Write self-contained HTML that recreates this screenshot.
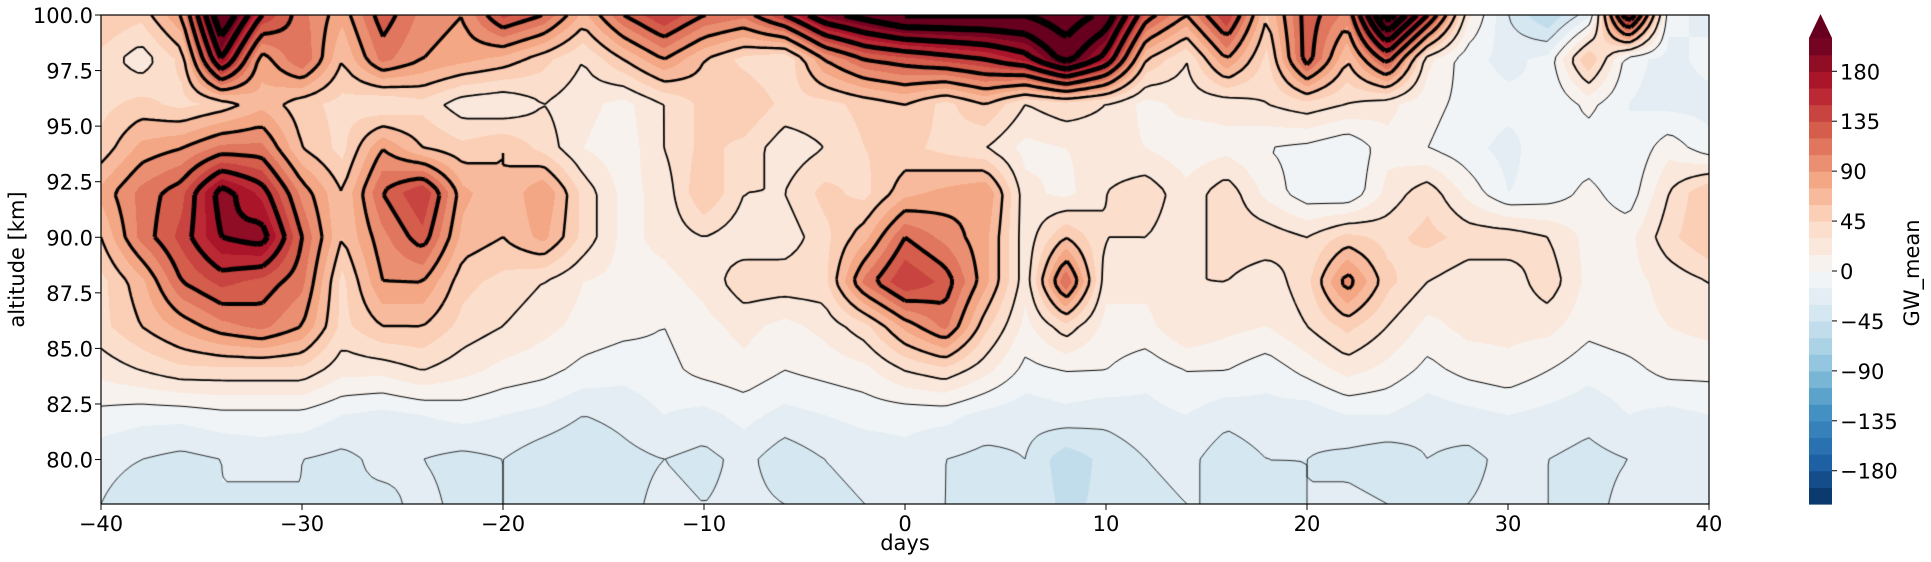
<!DOCTYPE html>
<html><head><meta charset="utf-8">
<style>
html,body{margin:0;padding:0;background:#fff;}
body{width:1931px;height:562px;position:relative;overflow:hidden;font-family:"DejaVu Sans","Liberation Sans",sans-serif;}
#plot{position:absolute;left:101px;top:15px;}
svg{position:absolute;left:0;top:0;}
</style></head>
<body>
<canvas id="plot" width="1608" height="489"></canvas>
<svg id="ov" width="1931" height="562"></svg>
<script>
const days=[-40,-38,-36,-34,-32,-30,-28,-26,-24,-22,-20,-18,-16,-14,-12,-10,-8,-6,-4,-2,0,2,4,6,8,10,12,14,16,18,20,22,24,26,28,30,32,34,36,38,40];
const alts=[100,98,96,94,92,90,88,86,84,82,80,78];
const r100=[60,50,90,240,150,110,80,130,100,90,140,120,70,120,150,120,110,150,200,220,240,240,240,240,260,230,130,90,150,60,130,100,260,150,20,-30,-60,-20,180,-10,-20];
const r98=[40,20,50,180,80,120,60,110,90,80,70,50,30,60,90,60,40,30,90,120,130,140,150,170,220,170,60,30,90,40,130,60,130,20,-10,-20,-10,60,-10,-20,-10];
const r96=[40,50,40,50,70,50,40,30,40,20,15,30,20,10,30,50,60,40,40,50,60,40,60,30,40,30,10,20,20,30,40,30,20,5,-5,-10,-15,5,-15,-20,-20];
const r94=[50,80,90,110,110,60,40,90,60,50,60,40,15,5,30,50,40,20,30,45,50,40,30,10,15,20,15,5,10,0,-5,-15,10,0,-10,-20,-5,-10,-15,10,-10];
const r92=[80,110,130,190,160,100,60,120,150,80,60,90,40,10,20,60,30,30,50,40,70,80,90,20,10,30,40,20,40,10,-10,-15,20,40,10,-15,-10,5,-10,30,60];
const r90=[60,110,140,180,190,120,60,100,130,70,60,80,40,10,20,30,20,20,40,70,120,100,80,20,60,30,30,20,40,40,30,50,40,50,40,40,30,10,10,40,60];
const r88=[40,70,120,140,130,110,40,90,90,50,40,30,15,10,10,20,40,40,40,110,150,130,80,20,120,20,20,30,30,20,40,100,50,30,20,20,40,10,10,20,30];
const r86=[40,60,80,100,110,90,40,60,60,40,30,20,10,5,0,10,20,10,20,40,80,110,50,10,40,10,10,30,20,15,30,50,30,10,20,20,20,5,10,15,20];
const r84=[20,30,40,40,40,40,20,20,30,20,10,5,-5,-10,-5,5,10,0,5,10,30,40,20,-5,0,0,-10,0,0,-10,5,20,10,-5,5,10,0,-10,-5,5,5];
const r82=[-5,-10,-10,-5,-5,-5,-15,-20,-15,-10,-15,-20,-30,-25,-15,-20,-10,-20,-15,-10,-10,-10,-20,-25,-20,-25,-20,-15,-25,-20,-25,-15,-15,-25,-20,-15,-20,-25,-15,-20,-15];
const r80=[-25,-30,-35,-30,-25,-30,-35,-25,-30,-35,-30,-40,-45,-35,-30,-35,-25,-40,-30,-25,-20,-30,-35,-30,-55,-40,-30,-25,-40,-30,-30,-35,-40,-30,-35,-25,-30,-35,-30,-25,-20];
const r78=[-30,-40,-35,-30,-35,-30,-30,-35,-25,-35,-30,-35,-30,-35,-25,-30,-25,-30,-35,-30,-25,-30,-35,-30,-50,-40,-35,-30,-30,-35,-30,-25,-30,-35,-30,-25,-30,-35,-25,-20,-15];
const rows=[r100,r98,r96,r94,r92,r90,r88,r86,r84,r82,r80,r78];
const xTicks=[-40,-30,-20,-10,0,10,20,30,40];
const yTicks=[80.0,82.5,85.0,87.5,90.0,92.5,95.0,97.5,100.0];
const cbTicks=[-180,-135,-90,-45,0,45,90,135,180];
const contourLevels=[-60,-30,0,30,60,90,120,150,180,210,240];

const PX=101,PY=15,PW=1608,PH=489;
const xS=d=>(d+40)/80*PW; const yS=a=>(100-a)/22*PH;
const VMIN=-210,VMAX=210,STEP=15;
const anchors=["#053061","#2166ac","#4393c3","#92c5de","#d1e5f0","#f7f7f7","#fddbc7","#f4a582","#d6604d","#b2182b","#67001f"].map(h=>[parseInt(h.slice(1,3),16),parseInt(h.slice(3,5),16),parseInt(h.slice(5,7),16)]);
function cmap(t){t=Math.max(0,Math.min(1,t));const f=t*10,i=Math.min(9,Math.floor(f)),r=f-i;const a=anchors[i],b=anchors[i+1];return [a[0]+(b[0]-a[0])*r,a[1]+(b[1]-a[1])*r,a[2]+(b[2]-a[2])*r].map(Math.round);}
const NB=(VMAX-VMIN)/STEP;
function bandColor(k){return cmap((k+0.5)/NB);}
function val(d,a){
  let fx=(d+40)/2, fy=(100-a)/2;
  fx=Math.max(0,Math.min(days.length-1.0001,fx)); fy=Math.max(0,Math.min(alts.length-1.0001,fy));
  const i=Math.floor(fx),j=Math.floor(fy),u=fx-i,v=fy-j;
  const r0=rows[j],r1=rows[j+1];
  return (r0[i]*(1-u)+r0[i+1]*u)*(1-v)+(r1[i]*(1-u)+r1[i+1]*u)*v;
}
const cv=document.getElementById('plot');const ctx=cv.getContext('2d');
const img=ctx.createImageData(PW,PH);
for(let y=0;y<PH;y++){const a=100-(y+0.5)/PH*22;for(let x=0;x<PW;x++){const d=(x+0.5)/PW*80-40;const v=val(d,a);let k=Math.floor((v-VMIN)/STEP);let c;if(k>=NB)c=[103,0,31];else{if(k<0)k=0;c=bandColor(k);}const o=(y*PW+x)*4;img.data[o]=c[0];img.data[o+1]=c[1];img.data[o+2]=c[2];img.data[o+3]=255;}}
ctx.putImageData(img,0,0);
const G=6;const nx=Math.ceil(PW/G)+1,ny=Math.ceil(PH/G)+1;
const F=[];for(let j=0;j<ny;j++){F.push([]);for(let i=0;i<nx;i++){const x=Math.min(PW,i*G),y=Math.min(PH,j*G);F[j].push(val(x/PW*80-40,100-y/PH*22));}}
ctx.strokeStyle='#000';ctx.lineJoin='round';
contourLevels.forEach(L=>{
  ctx.lineWidth=L<0?0.8:(1.0+L/40);
  ctx.beginPath();
  for(let j=0;j<ny-1;j++)for(let i=0;i<nx-1;i++){
    const x0=i*G,y0=j*G,x1=Math.min(PW,x0+G),y1=Math.min(PH,y0+G);
    const a=F[j][i],b=F[j][i+1],c=F[j+1][i+1],d=F[j+1][i];
    const pts=[];
    const e=(p,q,P,Q)=>{if((p<L)!==(q<L)){const t=(L-p)/(q-p);pts.push([P[0]+(Q[0]-P[0])*t,P[1]+(Q[1]-P[1])*t]);}};
    e(a,b,[x0,y0],[x1,y0]);e(b,c,[x1,y0],[x1,y1]);e(c,d,[x1,y1],[x0,y1]);e(d,a,[x0,y1],[x0,y0]);
    for(let k=0;k+1<pts.length;k+=2){ctx.moveTo(pts[k][0],pts[k][1]);ctx.lineTo(pts[k+1][0],pts[k+1][1]);}
  }
  ctx.stroke();
});
const NS='http://www.w3.org/2000/svg';const ov=document.getElementById('ov');
function mk(t,at,p){const e=document.createElementNS(NS,t);for(const k in at)e.setAttribute(k,at[k]);(p||ov).appendChild(e);return e;}
const frame=mk('rect',{x:PX,y:PY,width:PW,height:PH,fill:'none',stroke:'#000','stroke-width':1.2});


xTicks.forEach(t=>{const x=PX+xS(t);
  const l=mk('line',{x1:x,x2:x,y1:PY+PH,y2:PY+PH+6,stroke:'#000','stroke-width':1});
  
  
  const tx=mk('text',{x:x,y:PY+PH+27,'text-anchor':'middle','font-size':21,fill:'#000'});tx.textContent=t<0?'\u2212'+(-t):String(t);
  
  });
yTicks.forEach(t=>{const y=PY+yS(t);
  const l=mk('line',{x1:PX-6,x2:PX,y1:y,y2:y,stroke:'#000','stroke-width':1});
  
  
  const tx=mk('text',{x:PX-8,y:y+8,'text-anchor':'end','font-size':21,fill:'#000'});tx.textContent=t.toFixed(1);
  
  });
const xl=mk('text',{x:PX+PW/2,y:550,'text-anchor':'middle','font-size':21,fill:'#000'});xl.textContent='days';


const yl=mk('text',{x:0,y:0,'text-anchor':'middle','font-size':21,fill:'#000',transform:'translate(24,'+(PY+PH/2)+') rotate(-90)'});yl.textContent='altitude [km]';


const CX=1809,CW=23,CT=38,CB=504;const cS=v=>CB-(v-VMIN)/(VMAX-VMIN)*(CB-CT);
const cbg=mk('g',{});


for(let k=0;k<NB;k++){const lo=VMIN+k*STEP,hi=lo+STEP;const c=bandColor(k);
  const r=mk('rect',{x:CX,y:cS(hi),width:CW,height:cS(lo)-cS(hi)+0.6,fill:'rgb('+c.join(',')+')'},cbg);
  
  }
const tri=mk('polygon',{points:(CX)+','+CT+' '+(CX+CW)+','+CT+' '+(CX+CW/2)+',14',fill:'#67001f'},cbg);


cbTicks.forEach(t=>{const y=cS(t);
  const l=mk('line',{x1:CX+CW,x2:CX+CW+5,y1:y,y2:y,stroke:'#000','stroke-width':1});
  
  
  const tx=mk('text',{x:CX+CW+8,y:y+8,'font-size':21,fill:'#000'});tx.textContent=t<0?'\u2212'+(-t):String(t);
  
  });
const cl=mk('text',{x:0,y:0,'text-anchor':'middle','font-size':21,fill:'#000',transform:'translate(1919,'+((CT+CB)/2+2)+') rotate(-90)'});cl.textContent='GW_mean';


</script>
</body></html>
